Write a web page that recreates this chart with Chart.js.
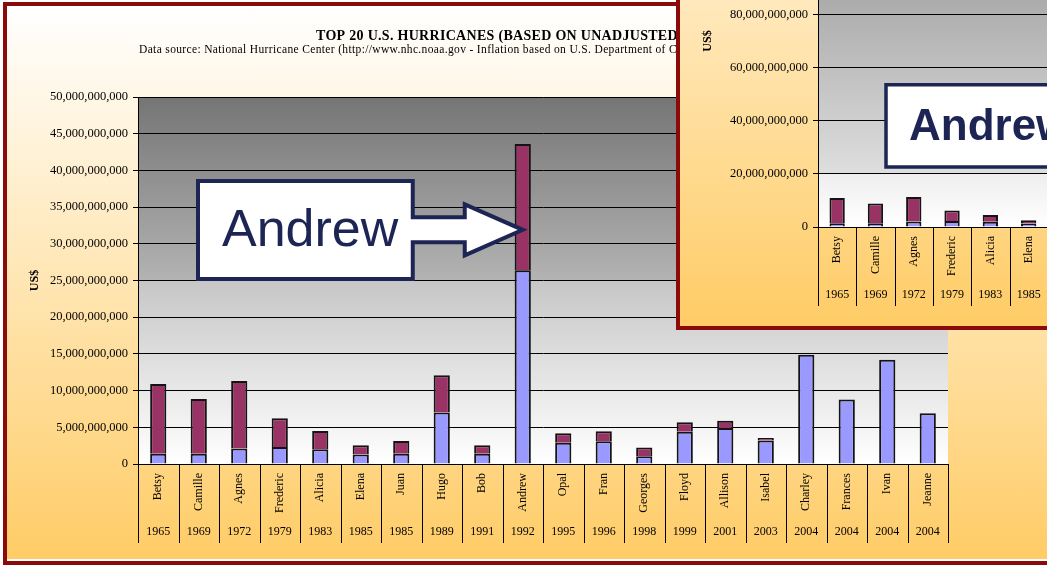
<!DOCTYPE html>
<html>
<head>
<meta charset="utf-8">
<title>Top 20 U.S. Hurricanes</title>
<script src="https://cdn.jsdelivr.net/npm/chart.js@4.4.1/dist/chart.umd.min.js"></script>
<style>
  html, body { margin: 0; padding: 0; background: #fff; }
  body { width: 1047px; height: 565px; overflow: hidden; position: relative; }
  .frame { position: absolute; box-sizing: border-box; border: 4px solid #8b0b0b;
           background: linear-gradient(to bottom, #ffffff, #ffcc66); }
  #main-frame { left: 3px; top: 2px; width: 1100px; height: 563px; box-shadow: inset 0 -2px 0 #fff; }
  #inset-frame { left: 676px; top: -260px; width: 1012px; height: 590px; }
  canvas { display: block; }
</style>
</head>
<body>
<div class="frame" id="main-frame"><canvas id="main-chart" width="1092" height="555"></canvas></div>
<div class="frame" id="inset-frame"><canvas id="inset-chart" width="1004" height="582"></canvas></div>

<script>
// ─── dados (bilhões de US$) ──────────────────────────────────────────────
const NAMES = ['Betsy','Camille','Agnes','Frederic','Alicia','Elena','Juan','Hugo','Bob','Andrew',
               'Opal','Fran','Georges','Floyd','Allison','Isabel','Charley','Frances','Ivan','Jeanne'];
const YEARS = ['1965','1969','1972','1979','1983','1985','1985','1989','1991','1992',
               '1995','1996','1998','1999','2001','2003','2004','2004','2004','2004'];
const UNADJUSTED = [1.4, 1.4, 2.1, 2.3, 2.0, 1.3, 1.4, 7.0, 1.4, 26.4,
                    2.9, 3.1, 1.05, 4.4, 4.9, 3.2, 14.9, 8.8, 14.2, 6.9];
const ADJUSTMENT = [9.5, 7.45, 9.2, 3.95, 2.5, 1.25, 1.75, 5.1, 1.15, 17.2,
                    1.3, 1.35, 1.2, 1.3, 1.0, 0.35, 0, 0, 0, 0];

const TITLE = 'TOP 20 U.S. HURRICANES (BASED ON UNADJUSTED DOLLARS)';
const SUBTITLE = 'Data source: National Hurricane Center (http://www.nhc.noaa.gov - Inflation based on U.S. Department of Commerce)';

const SERIF = "'Liberation Serif', 'Times New Roman', serif";
const SANS = "'Liberation Sans', Arial, sans-serif";
const NAVY = '#1c2553';

const fmtUSD = v => String(Math.round(v * 1e9)).replace(/\B(?=(\d{3})+(?!\d))/g, ',');

// ─── plugins ─────────────────────────────────────────────────────────────
const plotBg = {
  id: 'plotBg',
  beforeDraw(chart, args, o) {
    const {ctx, chartArea: a} = chart;
    const g = ctx.createLinearGradient(0, a.top, 0, a.bottom);
    o.stops.forEach(([p, c]) => g.addColorStop(p, c));
    ctx.save();
    ctx.fillStyle = g;
    ctx.fillRect(a.left, a.top, a.right - a.left, a.bottom - a.top);
    ctx.restore();
  }
};

// linhas verticais entre as categorias (nomes + anos)
const separators = {
  id: 'separators',
  afterDraw(chart) {
    const {ctx, chartArea: a} = chart;
    const x = chart.scales.x, x2 = chart.scales.x2;
    const half = (x.getPixelForValue(1) - x.getPixelForValue(0)) / 2;
    ctx.save();
    ctx.strokeStyle = '#000';
    ctx.lineWidth = 1;
    for (let i = 0; i <= NAMES.length; i++) {
      const px = Math.round(x.getPixelForValue(i) - half) + 0.5;
      ctx.beginPath();
      ctx.moveTo(px, a.bottom);
      ctx.lineTo(px, x2.bottom);
      ctx.stroke();
    }
    ctx.restore();
  }
};

// caixa com seta apontando para o Andrew
const callout = {
  id: 'callout',
  afterDatasetsDraw(chart, args, o) {
    const {ctx} = chart;
    const x = chart.scales.x, y = chart.scales.y;
    const tipX = x.getPixelForValue(NAMES.indexOf(o.target));
    const tipY = y.getPixelForValue(o.tipValue);
    const top = y.getPixelForValue(o.boxTop);
    const bottom = y.getPixelForValue(o.boxBottom);
    const left = chart.chartArea.left + o.boxLeft;
    const right = tipX - o.gap;
    const headX = tipX - o.headLen;

    ctx.save();
    ctx.beginPath();
    ctx.moveTo(left, top);
    ctx.lineTo(right, top);
    ctx.lineTo(right, tipY - o.shaft);
    ctx.lineTo(headX, tipY - o.shaft);
    ctx.lineTo(headX, tipY - o.head);
    ctx.lineTo(tipX, tipY);
    ctx.lineTo(headX, tipY + o.head);
    ctx.lineTo(headX, tipY + o.shaft);
    ctx.lineTo(right, tipY + o.shaft);
    ctx.lineTo(right, bottom);
    ctx.lineTo(left, bottom);
    ctx.closePath();
    ctx.fillStyle = '#fff';
    ctx.fill();
    ctx.lineWidth = o.lineWidth;
    ctx.strokeStyle = NAVY;
    ctx.lineJoin = 'miter';
    ctx.stroke();

    ctx.fillStyle = NAVY;
    ctx.font = o.font;
    ctx.textAlign = 'left';
    ctx.textBaseline = 'middle';
    ctx.fillText(o.target, left + o.textIndent, (top + bottom) / 2 + 2);
    ctx.restore();
  }
};

// título e subtítulo do gráfico principal
const headings = {
  id: 'headings',
  afterDraw(chart) {
    const {ctx} = chart;
    ctx.save();
    ctx.fillStyle = '#000';
    ctx.textAlign = 'left';
    ctx.textBaseline = 'middle';
    ctx.font = 'bold 14px ' + SERIF;
    ctx.letterSpacing = '0.3px';
    ctx.fillText(TITLE, 309, 30);
    ctx.font = '11.5px ' + SERIF;
    ctx.letterSpacing = '0.35px';
    ctx.fillText(SUBTITLE, 132, 44);
    ctx.restore();
  }
};

// ─── construção ──────────────────────────────────────────────────────────
function makeChart(id, cfg) {
  const ctx = document.getElementById(id).getContext('2d');
  return new Chart(ctx, {
    type: 'bar',
    data: {
      labels: NAMES,
      datasets: [
        {
          label: 'Unadjusted',
          data: UNADJUSTED,
          backgroundColor: '#9999ff',
          borderColor: '#141414',
          borderWidth: 2,
          categoryPercentage: 1,
          barPercentage: 0.4
        },
        {
          label: 'Adjusted',
          data: ADJUSTMENT,
          backgroundColor: '#993366',
          borderColor: '#141414',
          borderWidth: 2,
          categoryPercentage: 1,
          barPercentage: 0.4
        }
      ]
    },
    options: {
      responsive: false,
      animation: false,
      layout: { padding: cfg.padding },
      plugins: {
        legend: { display: false },
        tooltip: { enabled: false },
        plotBg: { stops: cfg.bgStops },
        callout: cfg.callout
      },
      scales: {
        x: {
          stacked: true,
          weight: 0,
          grid: { display: false, drawTicks: false },
          border: { display: true, color: '#000', width: 1 },
          ticks: {
            autoSkip: false, minRotation: 90, maxRotation: 90, padding: 9,
            color: '#000', font: { family: SERIF, size: 12 }
          },
          afterFit: s => { s.height = 56; }
        },
        x2: {
          type: 'category',
          labels: YEARS,
          position: 'bottom',
          offset: true,
          weight: 1,
          grid: { display: false, drawTicks: false },
          border: { display: false },
          ticks: {
            autoSkip: false, maxRotation: 0, padding: 5,
            color: '#000', font: { family: SERIF, size: 12 }
          },
          afterFit: s => { s.height = 23; }
        },
        y: {
          stacked: true,
          min: 0,
          max: cfg.yMax,
          grid: { color: '#000', lineWidth: 1, tickLength: 5, tickColor: '#000' },
          border: { color: '#000', width: 1 },
          ticks: {
            stepSize: cfg.yStep, padding: 5, color: '#000',
            font: { family: SERIF, size: 12.5 },
            callback: fmtUSD
          },
          title: {
            display: true, text: 'US$', color: '#000',
            font: { family: SERIF, size: 12, weight: 'bold' },
            padding: { top: 21, bottom: 0 }
          },
          afterFit: s => { s.width = 138 - cfg.axisShift; }
        }
      }
    },
    plugins: [plotBg, separators, callout].concat(cfg.extra || [])
  });
}

makeChart('main-chart', {
  yMax: 50, yStep: 5, axisShift: 7,
  padding: { top: 91, bottom: 18, left: 0, right: 151 },
  bgStops: [[0, '#757575'], [0.5, '#b3b3b3'], [0.5, '#c6c6c6'], [1, '#ffffff']],
  callout: {
    target: 'Andrew', tipValue: 31.9, boxTop: 38.55, boxBottom: 25.2,
    boxLeft: 60, gap: 110, headLen: 58, shaft: 12.5, head: 25.5,
    lineWidth: 4, textIndent: 24, font: '52px ' + SANS
  },
  extra: [headings]
});

makeChart('inset-chart', {
  yMax: 140, yStep: 20, axisShift: 0,
  padding: { top: 111, bottom: 20, left: 0, right: 100 },
  bgStops: [[0, '#828282'], [0.857, '#dedede'], [0.857, '#eeeeee'], [1, '#ffffff']],
  callout: {
    target: 'Andrew', tipValue: 38, boxTop: 53.5, boxBottom: 22.6,
    boxLeft: 68, gap: 90, headLen: 58, shaft: 12.5, head: 25.5,
    lineWidth: 3.5, textIndent: 23, font: 'bold 44px ' + SANS
  }
});
</script>
</body>
</html>
